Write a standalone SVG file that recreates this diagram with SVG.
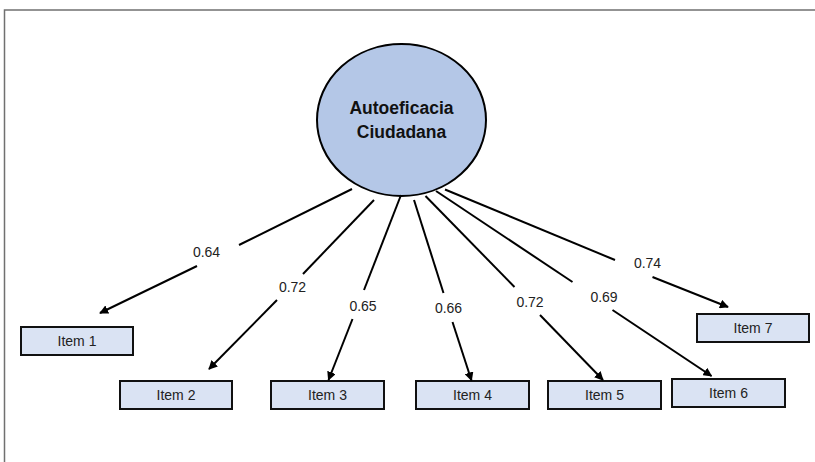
<svg xmlns="http://www.w3.org/2000/svg" width="815" height="462" viewBox="0 0 815 462">
  <style>
    .frame { fill: none; stroke: #707070; stroke-width: 1.5; }
    .latent { fill: #b4c7e7; stroke: #000; stroke-width: 2; }
    .latent-label { font-family: "Liberation Sans", Arial, sans-serif; font-size: 17.5px; font-weight: bold; fill: #111; text-anchor: middle; }
    .item rect { fill: #dae3f3; stroke: #111; stroke-width: 2; }
    .item text { font-family: "Liberation Sans", Arial, sans-serif; font-size: 14px; fill: #222; text-anchor: middle; }
    .edge { stroke: #000; stroke-width: 2; fill: none; }
    .loading { font-family: "Liberation Sans", Arial, sans-serif; font-size: 14px; fill: #222; text-anchor: middle; }
  </style>
  <defs>
    <marker id="arrow" viewBox="0 0 10 10" refX="9" refY="5" markerWidth="4.5" markerHeight="4.5" orient="auto" markerUnits="strokeWidth">
      <path d="M0,0 L10,5 L0,10 z" fill="#000"/>
    </marker>
  </defs>

  <!-- page frame -->
  <path class="frame" d="M4.5,462 L4.5,10 L815,10"/>

  <!-- latent factor -->
  <g id="autoeficacia">
    <ellipse class="latent" cx="401.5" cy="120" rx="84.5" ry="76"/>
    <text class="latent-label" x="401.5" y="114">Autoeficacia</text>
    <text class="latent-label" x="401.5" y="138">Ciudadana</text>
  </g>

  <!-- indicators -->
  <g id="item1" class="item"><rect x="21" y="327" width="112" height="28"/><text x="77" y="346">Item 1</text></g>
  <g id="item2" class="item"><rect x="120" y="381" width="112" height="28"/><text x="176" y="400">Item 2</text></g>
  <g id="item3" class="item"><rect x="271" y="381" width="113" height="28"/><text x="327.5" y="400">Item 3</text></g>
  <g id="item4" class="item"><rect x="416" y="381" width="113" height="28"/><text x="472.5" y="400">Item 4</text></g>
  <g id="item5" class="item"><rect x="548" y="381" width="113" height="28"/><text x="604.5" y="400">Item 5</text></g>
  <g id="item6" class="item"><rect x="672" y="379" width="113" height="28"/><text x="728.5" y="398">Item 6</text></g>
  <g id="item7" class="item"><rect x="697" y="314" width="112" height="28"/><text x="753" y="333">Item 7</text></g>

  <!-- factor loadings: each path is split around its label -->
  <g id="connectors">
    <path class="edge" d="M352,189 L239,245"/>
    <path class="edge" d="M197,266 L100,313" marker-end="url(#arrow)"/>

    <path class="edge" d="M374,200 L303,274"/>
    <path class="edge" d="M277,300 L209,369" marker-end="url(#arrow)"/>

    <path class="edge" d="M401,195 L364,290"/>
    <path class="edge" d="M352.5,319 L328.5,380" marker-end="url(#arrow)"/>

    <path class="edge" d="M414,200 L443.5,293"/>
    <path class="edge" d="M452.5,322 L471.5,380.5" marker-end="url(#arrow)"/>

    <path class="edge" d="M425.5,196 L514.5,287"/>
    <path class="edge" d="M540,315 L603,380" marker-end="url(#arrow)"/>

    <path class="edge" d="M436,191 L572.5,282"/>
    <path class="edge" d="M612.5,310 L711.5,376" marker-end="url(#arrow)"/>

    <path class="edge" d="M445,189.5 L615,260"/>
    <path class="edge" d="M652.5,277 L728,307" marker-end="url(#arrow)"/>

    <text class="loading" x="206.5" y="257">0.64</text>
    <text class="loading" x="292.5" y="292">0.72</text>
    <text class="loading" x="363" y="310.5">0.65</text>
    <text class="loading" x="448.5" y="313">0.66</text>
    <text class="loading" x="530" y="307">0.72</text>
    <text class="loading" x="604" y="302">0.69</text>
    <text class="loading" x="647.5" y="268">0.74</text>
  </g>
</svg>
